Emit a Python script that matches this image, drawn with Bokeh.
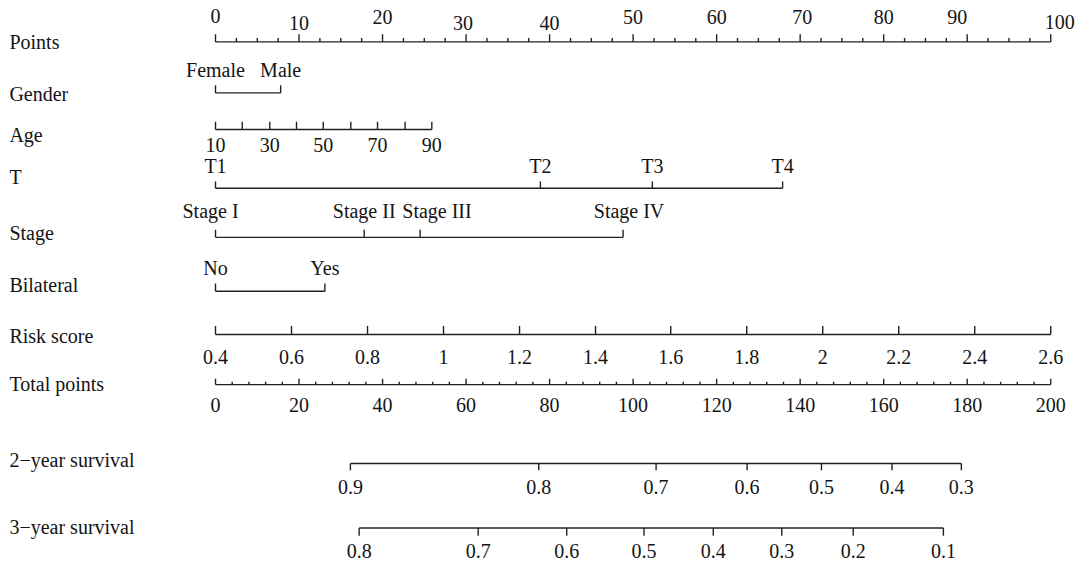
from bokeh.plotting import figure
from bokeh.models import Range1d, ColumnDataSource
from bokeh.core.properties import value
from bokeh.embed import file_html
from bokeh.resources import INLINE

# ---------------- data ----------------
points_ticks = [0, 10, 20, 30, 40, 50, 60, 70, 80, 90, 100]
points_tick_labels = ["0", "10", "20", "30", "40", "50", "60", "70", "80", "90", "100"]

gender_levels = ["Female", "Male"]
gender_points = [0, 7.8]

age_values = [10, 20, 30, 40, 50, 60, 70, 80, 90]
age_points = [0, 3.2, 6.5, 9.7, 12.9, 16.2, 19.4, 22.7, 25.9]
age_labels = ["10", "", "30", "", "50", "", "70", "", "90"]

t_levels = ["T1", "T2", "T3", "T4"]
t_points = [0, 38.9, 52.3, 67.9]

stage_levels = ["Stage I", "Stage II", "Stage III", "Stage IV"]
stage_points = [0, 17.8, 24.5, 48.8]

bilateral_levels = ["No", "Yes"]
bilateral_points = [0, 13.1]

risk_values = [0.4, 0.6, 0.8, 1.0, 1.2, 1.4, 1.6, 1.8, 2.0, 2.2, 2.4, 2.6]
risk_labels = ["0.4", "0.6", "0.8", "1", "1.2", "1.4", "1.6", "1.8", "2", "2.2", "2.4", "2.6"]
risk_points = [0, 9.1, 18.2, 27.3, 36.4, 45.5, 54.5, 63.6, 72.7, 81.8, 90.9, 100]

total_ticks = [0, 20, 40, 60, 80, 100, 120, 140, 160, 180, 200]

surv2_labels = ["0.9", "0.8", "0.7", "0.6", "0.5", "0.4", "0.3"]
surv2_total = [32.3, 77.4, 105.5, 127.3, 145.1, 162.0, 178.6]

surv3_labels = ["0.8", "0.7", "0.6", "0.5", "0.4", "0.3", "0.2", "0.1"]
surv3_total = [34.4, 62.9, 84.1, 102.6, 119.2, 135.6, 152.7, 174.3]

row_names = ["Points", "Gender", "Age", "T", "Stage", "Bilateral", "Risk score",
             "Total points", "2\u2212year survival", "3\u2212year survival"]

# ---------------- style / layout ----------------
FONT = value("Liberation Serif")
FS = "20px"
TXT = "#141414"
LC = "#222222"
LW = 1.4

PX_PER_PT = 8.43
X0 = (4 - 221) / PX_PER_PT
X1 = (1089 - 221) / PX_PER_PT

row_label_y = [43, 97, 140, 183, 241, 295, 348, 398, 477, 547]

p = figure(width=1075, height=568, output_backend="svg", toolbar_location=None,
           x_range=Range1d(X0, X1), y_range=Range1d(590, 0),
           x_axis_type=None, y_axis_type=None, min_border=0)
p.grid.visible = False
p.outline_line_color = None
p.background_fill_color = "white"
p.border_fill_color = "white"

segs = dict(x0=[], y0=[], x1=[], y1=[])
labels = dict(x=[], y=[], t=[])


def hline(xa, xb, y):
    segs["x0"].append(xa); segs["x1"].append(xb)
    segs["y0"].append(y); segs["y1"].append(y)


def tick(x, y, length):
    segs["x0"].append(x); segs["x1"].append(x)
    segs["y0"].append(y); segs["y1"].append(y - length)


def lab(x, y, t, dx_px=0):
    labels["x"].append(x + dx_px / PX_PER_PT)
    labels["y"].append(y)
    labels["t"].append(t)


# Points axis
Y = 43
hline(points_ticks[0], points_ticks[-1], Y)
for v in points_ticks:
    tick(v, Y, 8)
for i in range(len(points_ticks) - 1):
    a = points_ticks[i]
    step = (points_ticks[i + 1] - a) / 4
    for k in (1, 2, 3):
        tick(a + k * step, Y, 4)
pts_dy = [16, 23, 17, 23, 23, 17, 17, 17, 17, 17, 22]
pts_dx = [0, 0, 0, -3, 0, 0, 0, 2, 0, -10, 9]
for v, t, yy, dx in zip(points_ticks, points_tick_labels, pts_dy, pts_dx):
    lab(v, yy, t, dx)

# Gender
Y = 96
hline(gender_points[0], gender_points[-1], Y)
for v, t in zip(gender_points, gender_levels):
    tick(v, Y, 8)
    lab(v, 72, t)

# Age
Y = 134
hline(age_points[0], age_points[-1], Y)
for v, t in zip(age_points, age_labels):
    tick(v, Y, 8)
    if t:
        lab(v, 150, t)

# T
Y = 195
hline(t_points[0], t_points[-1], Y)
for v, t in zip(t_points, t_levels):
    tick(v, Y, 7)
    lab(v, 172, t)

# Stage
Y = 246
hline(stage_points[0], stage_points[-1], Y)
stage_dx = [-5, 0, 17, 6]
for v, t, dx in zip(stage_points, stage_levels, stage_dx):
    tick(v, Y, 8)
    lab(v, 219, t, dx)

# Bilateral
Y = 302
hline(bilateral_points[0], bilateral_points[-1], Y)
for v, t in zip(bilateral_points, bilateral_levels):
    tick(v, Y, 8)
    lab(v, 278, t)

# Risk score
Y = 347
hline(risk_points[0], risk_points[-1], Y)
for v, t in zip(risk_points, risk_labels):
    tick(v, Y, 9)
    lab(v, 370, t)

# Total points (0..200 mapped to 0..100 points)
Y = 399
hline(total_ticks[0] / 2, total_ticks[-1] / 2, Y)
for v in total_ticks:
    tick(v / 2, Y, 6)
    lab(v / 2, 420, str(v))
for i in range(len(total_ticks) - 1):
    a = total_ticks[i]
    step = (total_ticks[i + 1] - a) / 5
    for k in (1, 2, 3, 4):
        tick((a + k * step) / 2, Y, 3)

# 2-year survival
Y = 481
hline(surv2_total[0] / 2, surv2_total[-1] / 2, Y)
for v, t in zip(surv2_total, surv2_labels):
    tick(v / 2, Y, -7)
    lab(v / 2, 505, t)

# 3-year survival
Y = 548
hline(surv3_total[0] / 2, surv3_total[-1] / 2, Y)
for v, t in zip(surv3_total, surv3_labels):
    tick(v / 2, Y, -8)
    lab(v / 2, 572, t)

p.segment(x0="x0", y0="y0", x1="x1", y1="y1", source=ColumnDataSource(segs),
          line_color=LC, line_width=LW)

p.text(x="x", y="y", text="t", source=ColumnDataSource(labels),
       text_font=FONT, text_font_size=FS, text_color=TXT,
       text_align="center", text_baseline="middle")

# row names
p.text(x=[(13 - 221) / PX_PER_PT] * len(row_names), y=row_label_y, text=row_names,
       text_font=FONT, text_font_size=FS, text_color=TXT,
       text_align="left", text_baseline="middle")

open("out.html", "w").write(file_html(p, INLINE))
